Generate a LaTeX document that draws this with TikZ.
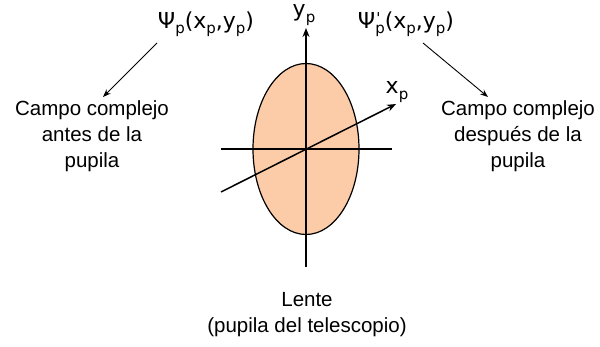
\documentclass[tikz,border=0pt]{standalone}
\usepackage{fontspec}
\setmainfont{Liberation Sans}
\newfontfamily\symfont{DejaVu Sans}
\usetikzlibrary{arrows.meta}
\definecolor{peach}{HTML}{FCCBA8}
\newcommand{\lowsub}[1]{\raisebox{-5.5pt}{\fontsize{15}{15}\selectfont #1}}
\newcommand{\highprime}{\raisebox{5pt}{\fontsize{15}{15}\selectfont '}}
\tikzset{
  axis/.style={line width=1.5pt},
  axisarrow/.style={line width=1.5pt,-{Stealth[length=9pt,width=7pt]}},
  pointer/.style={line width=0.9pt,-{Stealth[length=8pt,width=6pt]}},
  lbl/.style={font=\fontsize{22}{26}\selectfont\symfont, inner sep=0pt},
  desc/.style={font=\fontsize{20.5}{26}\selectfont, align=center, inner sep=0pt}
}
\begin{document}
\begin{tikzpicture}[x=1pt,y=-1pt]
\useasboundingbox (0,0) rectangle (600,347);
\coordinate (c) at (306,149);
\filldraw[fill=peach, draw=black, line width=1.2pt] (c) ellipse [x radius=53, y radius=85.5];
\coordinate (hl) at (221,149);
\coordinate (hr) at (392,149);
\coordinate (vb) at (306,267);
\coordinate (vt) at (306,28);
\coordinate (xs) at (221,192);
\coordinate (xe) at (396,104);
\draw[axis] (hl) -- (hr);
\draw[axisarrow] (vb) -- (vt);
\draw[axisarrow] (xs) -- (xe);
\node[lbl] (yl) at (304,15) {y\lowsub{p}};
\node[lbl] (xl) at (397,92) {x\lowsub{p}};
\node[lbl] (psi) at (206,24) {Ψ\lowsub{p}(x\lowsub{p},y\lowsub{p})};
\node[lbl] (psip) at (406,24) {Ψ\rlap{\kern1pt\highprime}\lowsub{p}(x\lowsub{p},y\lowsub{p})};
\node[desc] (left) at (92,136) {Campo complejo\\antes de la\\pupila};
\node[desc] (right) at (518,136) {Campo complejo\\después de la\\pupila};
\node[desc] (lente) at (307,315) {Lente\\(pupila del telescopio)};
\coordinate (la) at (157,43);
\coordinate (lt) at (103,97);
\coordinate (ra) at (423,43);
\coordinate (rt) at (488,97);
\draw[pointer] (la) -- (lt);
\draw[pointer] (ra) -- (rt);
\end{tikzpicture}
\end{document}
